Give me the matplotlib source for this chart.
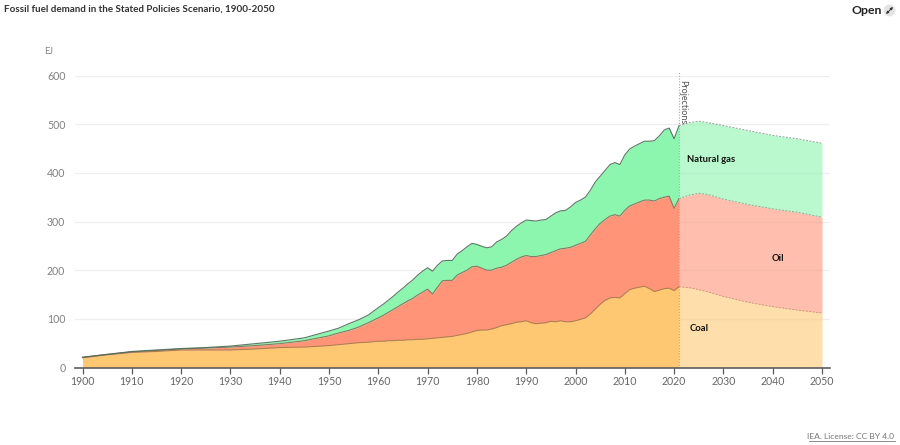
import matplotlib
matplotlib.use("Agg")
import matplotlib.pyplot as plt
from matplotlib.patches import Circle

plt.rcParams['font.family'] = ['Lato', 'DejaVu Sans']

years_hist = [1900,1905,1910,1915,1920,1925,1930,1935,1940,1945,1950,1952,1954,1956,1958,
              1960,1961,1962,1963,1964,1965,1966,1967,1968,1969,1970,1971,1972,1973,1974,1975,
              1976,1977,1978,1979,1980,1981,1982,1983,1984,1985,1986,1987,1988,1989,1990,
              1991,1992,1993,1994,1995,1996,1997,1998,1999,2000,2001,2002,2003,2004,2005,
              2006,2007,2008,2009,2010,2011,2012,2013,2014,2015,2016,2017,2018,2019,2020,2021]
coal_top = [20,26,31,33,36,36,36,38,41,42,45,47,49,51,52,
            54,54,55,55,56,56,57,57,58,58,59,60,61,62,63,64,
            66,68,70,73,76,77,77,79,82,86,88,90,93,94,96,
            92,90,91,92,95,94,96,94,94,96,99,102,110,120,130,
            138,143,144,143,152,160,163,165,167,162,156,159,162,163,158,166]
oil_top = [21,27,32,35,38,40,42,45,49,55,65,71,76,83,92,
           102,107,113,119,125,131,137,142,149,155,161,151,165,178,179,179,
           190,195,200,207,208,204,200,200,204,206,210,216,222,227,230,
           228,228,230,232,236,240,244,245,247,251,255,259,272,285,296,
           304,311,314,311,323,332,336,340,344,344,342,347,350,352,327,347]
gas_top = [21,27,33,36,39,41,44,49,54,61,75,81,90,98,108,
           123,130,138,146,155,163,172,180,190,198,205,198,210,219,220,220,
           233,240,248,255,253,249,246,248,258,263,270,281,290,297,303,
           302,301,303,304,311,318,322,323,330,339,344,350,364,381,393,
           405,417,421,417,437,449,455,460,465,465,466,476,488,492,470,497]

years_proj = [2021,2023,2025,2027,2030,2035,2040,2045,2050]
coal_proj = [166,164,160,155,146,134,125,118,112]
oil_proj = [347,354,358,355,346,335,326,319,309]
gas_proj = [497,503,506,503,497,487,477,470,461]

y_ticks = [0,100,200,300,400,500,600]
x_ticks = list(range(1900,2060,10))

COAL, OIL, GAS = '#FEC873', '#FF9478', '#8CF5AE'
EDGE = '#4a6a55'

fig = plt.figure(figsize=(9,4.45), dpi=100)
W, H = 900, 445
L, R, B, T = 75, 830, 367.5, 75.5
ax = fig.add_axes([L/W, 1-B/H, (R-L)/W, (B-T)/H])
xpx = (822-82.5)/150
ax.set_xlim(1900-(82.5-L)/xpx, 2050+(R-822)/xpx)
ax.set_ylim(0,600)

for y in y_ticks[1:]:
    ax.axhline(y, color='#eeeeee', lw=0.9, zorder=1)

ax.fill_between(years_hist, 0, coal_top, color=COAL, lw=0, zorder=2)
ax.fill_between(years_hist, coal_top, oil_top, color=OIL, lw=0, zorder=2)
ax.fill_between(years_hist, oil_top, gas_top, color=GAS, lw=0, zorder=2)
for s, c in ((coal_top,'#a87f45'),(oil_top,'#8a6a5a'),(gas_top,EDGE)):
    ax.plot(years_hist, s, color=c, lw=0.8, zorder=3, alpha=0.9)

ax.fill_between(years_proj, 0, coal_proj, color=COAL, alpha=0.6, lw=0, zorder=2)
ax.fill_between(years_proj, coal_proj, oil_proj, color=OIL, alpha=0.6, lw=0, zorder=2)
ax.fill_between(years_proj, oil_proj, gas_proj, color=GAS, alpha=0.6, lw=0, zorder=2)
for s, c in ((coal_proj,'#a87f45'),(oil_proj,'#8a6a5a'),(gas_proj,EDGE)):
    ax.plot(years_proj, s, color=c, lw=0.7, ls=(0,(2,1.5)), zorder=3, alpha=0.6)

ax.plot([2021,2021],[0,610], color='#aaaaaa', lw=0.8, ls=(0,(1,1.5)), zorder=4, clip_on=False)
ax.text(2021.8, 590, 'Projections', rotation=270, ha='center', va='top', fontsize=6.5, color='#555555', zorder=5)

for s in ('top','right','left'):
    ax.spines[s].set_visible(False)
ax.spines['bottom'].set_color('#5c5c5c')
ax.spines['bottom'].set_linewidth(1.2)
ax.spines['bottom'].set_zorder(6)
ax.set_xticks(x_ticks)
ax.set_yticks(y_ticks)
ax.tick_params(axis='x', length=4.5, width=0.9, color='#5c5c5c', labelsize=7.6, labelcolor='#666666', pad=1.5)
ax.tick_params(axis='y', length=0, labelsize=7.6, labelcolor='#808080', pad=7)

ax.text(2022.6, 427, 'Natural gas', fontsize=6.8, fontweight='bold', color='#111111', va='center', zorder=6)
ax.text(2039.7, 224, 'Oil', fontsize=6.8, fontweight='bold', color='#111111', va='center', zorder=6)
ax.text(2023.2, 81, 'Coal', fontsize=6.8, fontweight='bold', color='#111111', va='center', zorder=6)

fig.text(4.5/W, 1-9.5/H, 'Fossil fuel demand in the Stated Policies Scenario, 1900-2050', fontsize=7.1, fontweight='bold', color='#333333', va='center')
fig.text(44/W, 1-51.5/H, 'EJ', fontsize=6.5, color='#808080', va='center')
fig.text(852/W, 1-10/H, 'Open', fontsize=8.8, fontweight='bold', color='#222222', va='center')
ov = fig.add_axes([0,0,1,1], facecolor='none')
ov.set_xlim(0,W); ov.set_ylim(H,0); ov.axis('off')
ov.add_patch(Circle((889.5,10.5), 6, color='#e4e4e4', lw=0))
ov.annotate('', xy=(893,7), xytext=(886,14), arrowprops=dict(arrowstyle='<|-|>', color='#333333', lw=0.7, mutation_scale=3.5, shrinkA=0, shrinkB=0))
fig.text(894/W, 1-436.5/H, 'IEA. License: CC BY 4.0', fontsize=6.1, color='#777777', ha='right', va='center')
ov.plot([809,895],[440.5,440.5], color='#777777', lw=0.6)

fig.savefig('out.png', dpi=100)
